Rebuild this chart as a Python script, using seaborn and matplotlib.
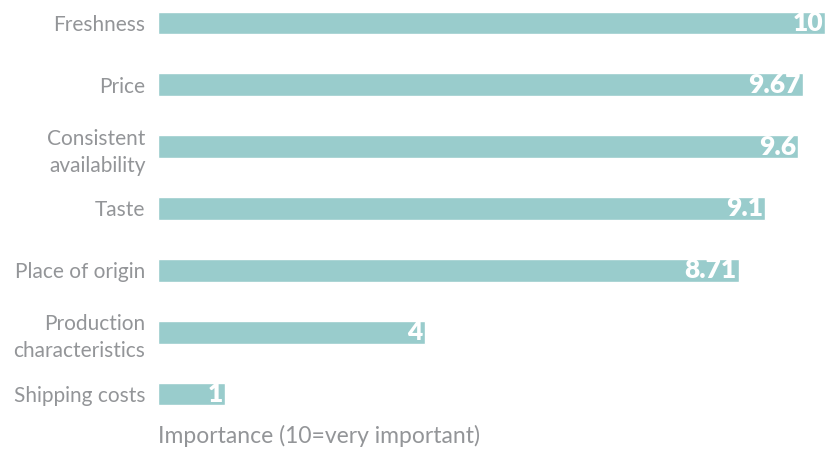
import matplotlib
matplotlib.use("Agg")
import matplotlib.pyplot as plt
import seaborn as sns
import pandas as pd

categories = ["Freshness", "Price", "Consistent\navailability", "Taste",
              "Place of origin", "Production\ncharacteristics", "Shipping costs"]
values = [10, 9.67, 9.6, 9.1, 8.71, 4, 1]
value_labels = ["10", "9.67", "9.6", "9.1", "8.71", "4", "1"]
x_label = "Importance (10=very important)"

sns.set_theme(style="white")
plt.rcParams["font.family"] = ["Lato", "DejaVu Sans"]

BAR = "#99cccc"
GRAY = "#939598"

df = pd.DataFrame({"cat": categories, "val": values})

W, H = 825, 451
fig = plt.figure(figsize=(W / 100, H / 100), dpi=100)
top_px, bot_px = 10, 407
ax = fig.add_axes([158 / W, 1 - bot_px / H, 1 - 158 / W, (bot_px - top_px) / H])

sns.barplot(data=df, x="val", y="cat", color=BAR, width=0.37, saturation=1, ax=ax)

ax.set_xlim(0, 10)
step = (394 - 23) / 6
ax.set_ylim(6 + (bot_px - 394) / step, -(23 - top_px) / step)

for i, (v, lab) in enumerate(zip(values, value_labels)):
    ax.text(v - 0.03, i, lab, ha="right", va="center", color="white",
            fontsize=19, fontweight="heavy")

for s in ax.spines.values():
    s.set_visible(False)
ax.set_xticks([])
ax.tick_params(axis="y", length=0, pad=9, labelsize=15, labelcolor=GRAY)
for t in ax.get_yticklabels():
    t.set_linespacing(1.45)
ax.set_ylabel("")
ax.set_xlabel(x_label, loc="left", fontsize=16.5, color=GRAY, labelpad=13)

fig.savefig("out.png", dpi=100)
